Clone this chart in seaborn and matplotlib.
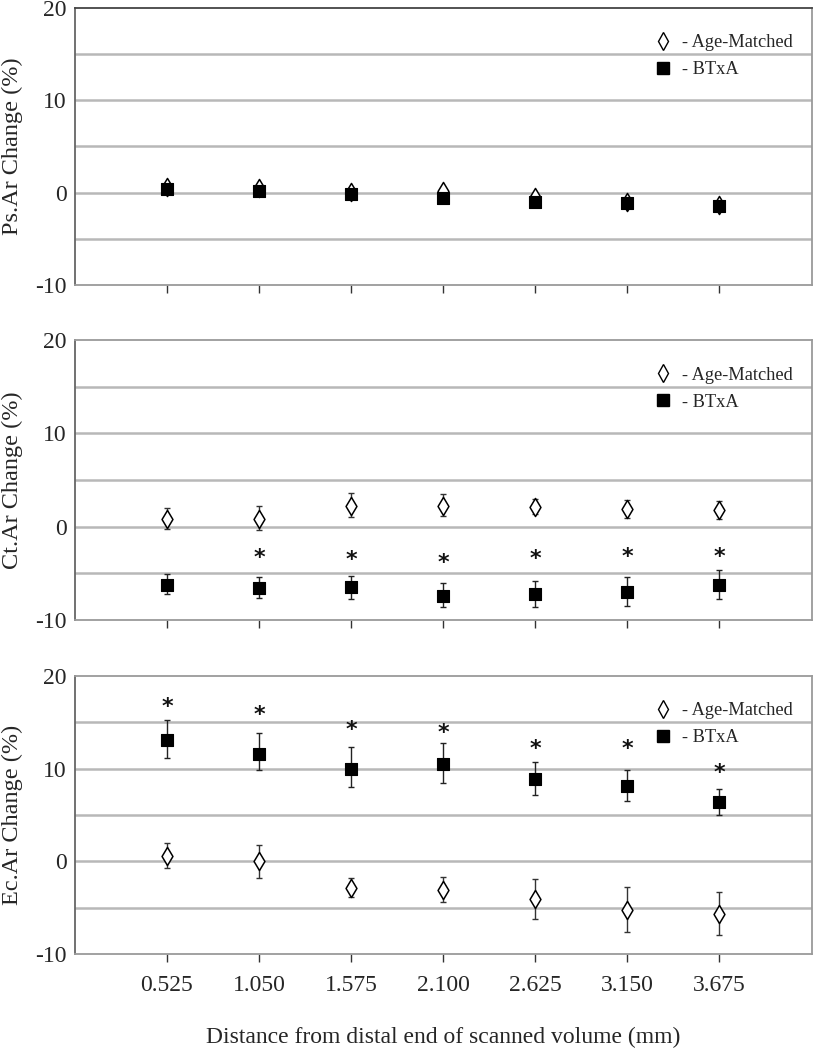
import numpy as np
import pandas as pd
import matplotlib
matplotlib.use("Agg")
import matplotlib.pyplot as plt
import seaborn as sns
from matplotlib.lines import Line2D

# distance from distal end (mm)
distance = [0.525, 1.050, 1.575, 2.100, 2.625, 3.150, 3.675]
tick_labels = ["0.525", "1.050", "1.575", "2.100", "2.625", "3.150", "3.675"]

# Ps.Ar
ps_age = [0.65, 0.45, 0.1, 0.2, -0.45, -1.05, -1.35]
ps_age_lo = [0.3, 0.3, 0.3, 0.3, 0.3, 0.3, 0.3]
ps_age_hi = [0.3, 0.3, 0.3, 0.3, 0.3, 0.3, 0.3]
ps_btxa = [0.4, 0.2, -0.1, -0.6, -1.05, -1.1, -1.5]
ps_btxa_lo = [0.3, 0.3, 0.3, 0.3, 0.3, 0.3, 0.3]
ps_btxa_hi = [0.3, 0.3, 0.3, 0.3, 0.3, 0.3, 0.3]
ps_star = [None, None, None, None, None, None, None]

# Ct.Ar
ct_age = [0.85, 0.85, 2.2, 2.2, 2.15, 1.9, 1.8]
ct_age_lo = [1.05, 1.25, 1.2, 1.1, 0.75, 1.0, 1.0]
ct_age_hi = [1.15, 1.35, 1.4, 1.3, 0.85, 1.0, 1.0]
ct_btxa = [-6.2, -6.6, -6.5, -7.4, -7.2, -7.0, -6.2]
ct_btxa_lo = [1.0, 1.0, 1.2, 1.2, 1.4, 1.5, 1.5]
ct_btxa_hi = [1.1, 1.2, 1.2, 1.4, 1.4, 1.6, 1.6]
ct_star = [None, -3.4, -3.6, -3.9, -3.5, -3.3, -3.3]

# Ec.Ar
ec_age = [0.6, 0.0, -2.9, -3.1, -4.1, -5.2, -5.7]
ec_age_lo = [1.3, 1.8, 1.0, 1.3, 2.1, 2.4, 2.3]
ec_age_hi = [1.4, 1.8, 1.1, 1.4, 2.2, 2.4, 2.4]
ec_btxa = [13.1, 11.6, 10.0, 10.5, 8.9, 8.1, 6.4]
ec_btxa_lo = [2.0, 1.7, 2.0, 2.1, 1.7, 1.6, 1.4]
ec_btxa_hi = [2.2, 2.2, 2.3, 2.3, 1.8, 1.8, 1.4]
ec_star = [16.7, 15.8, 14.2, 13.9, 12.1, 12.1, 9.5]

panels = [
    ("Ps.Ar Change (%)", ps_age, ps_age_lo, ps_age_hi, ps_btxa, ps_btxa_lo, ps_btxa_hi, ps_star),
    ("Ct.Ar Change (%)", ct_age, ct_age_lo, ct_age_hi, ct_btxa, ct_btxa_lo, ct_btxa_hi, ct_star),
    ("Ec.Ar Change (%)", ec_age, ec_age_lo, ec_age_hi, ec_btxa, ec_btxa_lo, ec_btxa_hi, ec_star),
]

sns.set_style("white")
plt.rcParams["font.family"] = ["Liberation Serif", "DejaVu Serif"]

fig = plt.figure(figsize=(8.14, 10.5), dpi=100)
boxes = [(0.092, 0.7286, 0.905, 0.2638),
         (0.092, 0.4095, 0.905, 0.2667),
         (0.092, 0.0914, 0.905, 0.2648)]

grid_col = "#b8b8b8"
for i, (ylab, age, age_lo, age_hi, bt, bt_lo, bt_hi, star) in enumerate(panels):
    ax = fig.add_axes(boxes[i])
    df_age = pd.DataFrame({"x": distance, "y": age})
    df_bt = pd.DataFrame({"x": distance, "y": bt})

    for yv in [-5, 0, 5, 10, 15]:
        ax.axhline(yv, color=grid_col, lw=1.8, zorder=0)

    ax.errorbar(distance, age, yerr=[age_lo, age_hi], fmt="none", ecolor="#333333",
                elinewidth=1.0, capsize=2.2, capthick=1.0, zorder=2)
    ax.errorbar(distance, bt, yerr=[bt_lo, bt_hi], fmt="none", ecolor="#222222",
                elinewidth=1.0, capsize=2.2, capthick=1.0, zorder=2)
    sns.scatterplot(data=df_age, x="x", y="y", marker="d", s=85, color="white",
                    edgecolor="black", linewidth=1.1, ax=ax, zorder=3)
    sns.scatterplot(data=df_bt, x="x", y="y", marker="s", s=80, color="black",
                    edgecolor="black", linewidth=0.8, ax=ax, zorder=4)

    for xv, sv in zip(distance, star):
        if sv is not None:
            ax.text(xv, sv, "*", ha="center", va="center", fontsize=16, color="#111111",
                    family="DejaVu Sans", fontweight="bold")

    ax.set_xlim(0, 4.2)
    ax.set_ylim(-10, 20)
    ax.set_yticks([-10, 0, 10, 20])
    ax.set_yticklabels(["-10", "0", "10", "20"], fontsize=17)
    ax.tick_params(axis="y", length=0, pad=6)
    ax.set_xticks(distance)
    if i == 2:
        ax.set_xticklabels(tick_labels, fontsize=17)
        ax.set_xlabel("Distance from distal end of scanned volume (mm)", fontsize=17, labelpad=22)
    else:
        ax.set_xticklabels([])
        ax.set_xlabel("")
    ax.tick_params(axis="x", length=6, width=1.0, color="#333333", direction="out", pad=9, bottom=True)
    ax.set_ylabel(ylab, fontsize=17.5)
    ax.yaxis.set_label_coords(-0.071, 0.5)

    for side in ["left", "right", "bottom", "top"]:
        ax.spines[side].set_visible(True)
        ax.spines[side].set_color("#9a9a9a")
        ax.spines[side].set_linewidth(1.3)
    if i == 0:
        ax.spines["top"].set_color("#444444")
    ax.spines["left"].set_color("#666666")

    handles = [
        Line2D([], [], marker="d", ls="none", markersize=9, markerfacecolor="white",
               markeredgecolor="black", markeredgewidth=1.0, label="- Age-Matched"),
        Line2D([], [], marker="s", ls="none", markersize=8.5, markerfacecolor="black",
               markeredgecolor="black", label="- BTxA"),
    ]
    ax.legend(handles=handles, loc="upper left", bbox_to_anchor=(0.783, 0.905), frameon=False,
              fontsize=13.2, handletextpad=0.45, labelspacing=0.55, handlelength=1.2,
              borderpad=0, borderaxespad=0, alignment="left")

fig.savefig("out.png", dpi=100)
